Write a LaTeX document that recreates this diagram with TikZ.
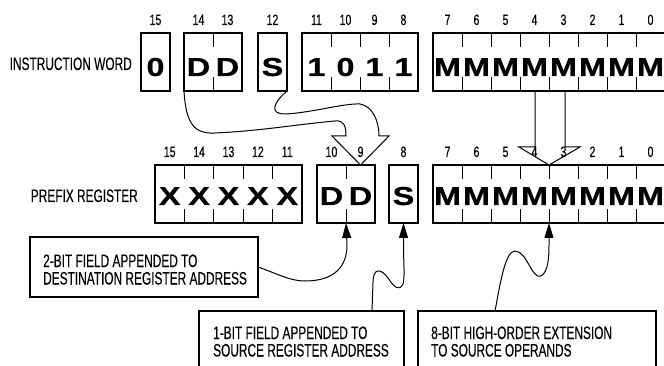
\documentclass[tikz,border=0pt]{standalone}
\usepackage{fontspec}
\usetikzlibrary{arrows.meta,calc}
\newfontfamily\labf{Liberation Sans}[FakeStretch=0.66,FakeBold=0.25]
\newfontfamily\numf{Liberation Sans}[FakeStretch=0.7,FakeBold=0.25]
\newfontfamily\bitf{Liberation Sans}[FakeStretch=1.25,FakeBold=0.5]
\tikzset{
  regbox/.style={draw, line width=1.2pt, inner sep=0pt, outer sep=0pt, anchor=north west, minimum height=58pt},
  tickline/.style={line width=1pt},
  bitletter/.style={font=\bitf\bfseries\fontsize{26}{26}\selectfont, anchor=base, inner sep=0pt},
  bitnum/.style={font=\numf\fontsize{15}{15}\selectfont, anchor=base, inner sep=0pt},
  lab/.style={font=\labf\fontsize{18}{18}\selectfont, inner sep=0pt},
  callout/.style={draw, line width=1.2pt, inner sep=0pt, outer sep=0pt, anchor=north west},
  conn/.style={line width=1pt},
  tipped/.style={-{Triangle[length=15pt,width=9pt]}}
}
% name, x, top, bit width, number of bits, letters, numbers, letter baseline offset
\newcommand\regfield[8]{%
  \node[regbox, minimum width={#4*#5}] (#1) at (#2,#3) {};
  \foreach \L [count=\i] in {#6}{\node[bitletter] (#1-l\i) at ({#2+(\i-0.5)*#4},{#3+#8}) {\L};}
  \foreach \N [count=\i] in {#7}{\node[bitnum] (#1-n\i) at ({#2+(\i-0.5)*#4},{#3-8}) {\N};}
  \ifnum#5>1
    \foreach \i in {2,...,#5}{\draw[tickline] ({#2+(\i-1)*#4},#3) -- ++(0,14) ({#2+(\i-1)*#4},{#3+58}) -- ++(0,-14);}
  \fi
}
\begin{document}
\begin{tikzpicture}[x=1pt,y=-1pt]
\useasboundingbox (0,0) rectangle (664,366);
\fill[white] (0,0) rectangle (664,366);
\clip (0,0) rectangle (664,366);

% labels
\node[lab, anchor=base east] (lw) at (132,70) {INSTRUCTION WORD};
\node[lab, anchor=base east] (lp) at (138,202) {PREFIX REGISTER};

% instruction word
\regfield{ia}{141}{33}{29}{1}{0}{15}{43}
\regfield{idd}{184}{33}{29}{2}{D,D}{14,13}{43}
\regfield{is}{258}{33}{29}{1}{S}{12}{43}
\regfield{iop}{302}{33}{29}{4}{1,0,1,1}{11,10,9,8}{43}
\regfield{im}{433}{33}{29}{8}{M,M,M,M,M,M,M,M}{7,6,5,4,3,2,1,0}{43}

% prefix register
\regfield{px}{155}{165}{29.4}{5}{X,X,X,X,X}{15,14,13,12,11}{40}
\regfield{pdd}{317}{165}{29}{2}{D,D}{10,9}{40}
\regfield{ps}{389}{165}{29}{1}{S}{8}{40}
\regfield{pm}{433}{165}{29}{8}{M,M,M,M,M,M,M,M}{7,6,5,4,3,2,1,0}{40}

% hollow arrow DD,S -> prefix DD
\draw[conn, line join=miter] (idd.south west) .. controls (186,125) and (195,134) .. (215,133)
  .. controls (260,131) and (300,124) .. (335,121)
  .. controls (344,120) and (346,126) .. (346,136)
  -- (332,136) -- ([xshift=14.5pt]pdd.north) -- (389,136) -- (379,136)
  .. controls (379,120) and (372,106) .. (360,104)
  .. controls (345,103) and (310,113) .. (285,114)
  .. controls (270,114) and (272,104) .. (is.south east);

% hollow arrow M -> prefix M
\draw[conn, line join=miter] ([xshift=102pt]im.south west) -- (535,147) -- (519,147)
  -- ([xshift=116pt]pm.north west) -- (580,147) -- (565,147) -- ([xshift=132pt]im.south west);

% callout boxes
\node[callout, minimum width=228pt, minimum height=60pt] (cb1) at (30,237) {};
\node[lab, anchor=base west] (cb1a) at (43,267) {2-BIT FIELD APPENDED TO};
\node[lab, anchor=base west] (cb1b) at (43,284.5) {DESTINATION REGISTER ADDRESS};

\node[callout, minimum width=205pt, minimum height=80pt] (cb2) at (199,311) {};
\node[lab, anchor=base west] (cb2a) at (213,339) {1-BIT FIELD APPENDED TO};
\node[lab, anchor=base west] (cb2b) at (213,356.5) {SOURCE REGISTER ADDRESS};

\node[callout, minimum width=238pt, minimum height=80pt] (cb3) at (418,311) {};
\node[lab, anchor=base west] (cb3a) at (431,339) {8-BIT HIGH-ORDER EXTENSION};
\node[lab, anchor=base west] (cb3b) at (431,356.5) {TO SOURCE OPERANDS};

% connectors
\draw[conn, tipped] (cb1.east) .. controls (278,274) and (290,281) .. (305,281)
  .. controls (335,281) and (347,266) .. (347,245) -- (pdd.south);
\draw[conn, tipped] ([xshift=173pt]cb2.north west) -- (373,282)
  .. controls (373,268) and (381,268) .. (388,278)
  .. controls (394,287) and (399,292) .. (403,284)
  .. controls (405,278) and (403.5,262) .. (403.5,245) -- (ps.south);
\draw[conn, tipped] ([xshift=77pt]cb3.north west) .. controls (500,285) and (505,251) .. (515,251)
  .. controls (527,251) and (532,280) .. (541,276)
  .. controls (548,272) and (549,258) .. (549,245) -- ([xshift=116pt]pm.south west);
\end{tikzpicture}
\end{document}
